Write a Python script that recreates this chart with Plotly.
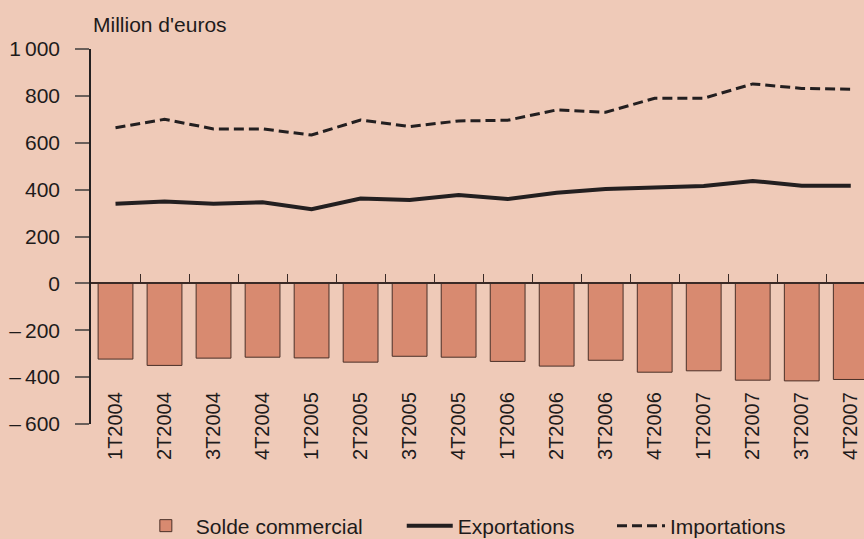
import plotly.graph_objects as go

categories = ["1T2004", "2T2004", "3T2004", "4T2004",
              "1T2005", "2T2005", "3T2005", "4T2005",
              "1T2006", "2T2006", "3T2006", "4T2006",
              "1T2007", "2T2007", "3T2007", "4T2007"]
solde = [-323, -350, -319, -315, -318, -336, -311, -315,
         -333, -353, -328, -379, -373, -413, -416, -410]
exportations = [340, 349, 340, 346, 316, 362, 356, 377,
                360, 387, 403, 411, 416, 437, 417, 417]
importations = [664, 700, 659, 659, 633, 697, 669, 693,
                696, 740, 730, 790, 790, 851, 832, 828]
ytick_vals = [-600, -400, -200, 0, 200, 400, 600, 800, 1000]
ytick_text = ["\u2013\u2009600", "\u2013\u2009400", "\u2013\u2009200", "0",
              "200", "400", "600", "800", "1\u2009000"]

BG = "#EFCAB8"
FONT = "Liberation Sans, Arial, sans-serif"
INK = "#1e1b1b"

fig = go.Figure()
fig.add_trace(go.Bar(x=categories, y=solde, name="Solde commercial",
                     marker=dict(color="#D88A70", line=dict(color="#4a3028", width=1)),
                     width=0.71, legend="legend"))
fig.add_trace(go.Scatter(x=categories, y=exportations, name="Exportations",
                         mode="lines", line=dict(color="#231f20", width=4),
                         legend="legend2"))
fig.add_trace(go.Scatter(x=categories, y=importations, name="Importations",
                         mode="lines", line=dict(color="#231f20", width=3, dash="10px,5px"),
                         legend="legend3"))

leg_common = dict(orientation="h", y=-0.272, yanchor="middle", xanchor="left",
                  font=dict(size=21, color=INK), bgcolor="rgba(0,0,0,0)")

fig.update_layout(
    width=864, height=539,
    margin=dict(l=91, r=0, t=49, b=115, autoexpand=False),
    paper_bgcolor=BG, plot_bgcolor=BG,
    font=dict(family=FONT, size=20, color=INK),
    showlegend=True,
    legend=dict(x=0.058, itemwidth=50, **leg_common),
    legend2=dict(x=0.402, itemwidth=46, **leg_common),
    legend3=dict(x=0.674, itemwidth=48, **leg_common),
    xaxis=dict(type="category", range=[-0.5, 15.27], anchor="free", position=0.375,
               showline=True, linecolor="#3a2a26", linewidth=1.5,
               ticks="inside", ticklen=9, tickcolor="#3a2a26", tickwidth=1,
               tickson="boundaries", tickangle=-90, ticklabelstandoff=100,
               showgrid=False, zeroline=False, tickfont=dict(size=20, color=INK)),
    yaxis=dict(range=[-600, 1000], tickvals=ytick_vals, ticktext=ytick_text,
               showline=True, linecolor="#231f20", linewidth=1.5,
               ticks="outside", ticklen=14, tickcolor="#6a5f5a", tickwidth=1.5,
               ticklabelstandoff=11, showgrid=False, zeroline=False,
               tickfont=dict(size=21, color=INK)),
    annotations=[dict(text="Million d'euros", xref="paper", yref="paper",
                      x=0, y=1.065, xanchor="left", yanchor="middle",
                      showarrow=False, font=dict(size=21, color=INK))],
)

fig.write_html("out.html", config={"displayModeBar": False},
               post_script="document.body.style.margin='0';document.body.style.overflow='hidden';")
